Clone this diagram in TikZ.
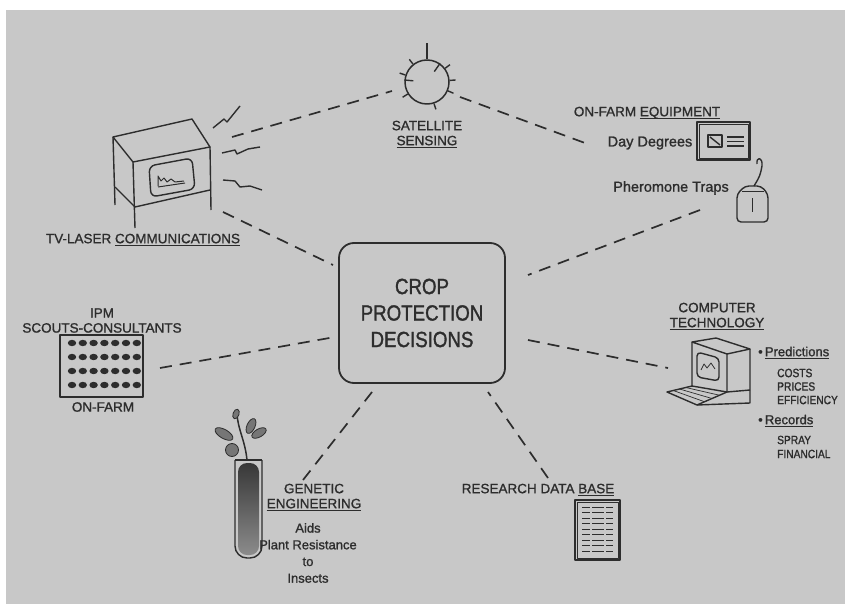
\documentclass[tikz,border=0pt]{standalone}
\usepackage{fontspec}
\setmainfont{Liberation Sans}[FakeBold=1.2]
\newfontfamily\cropfont{Liberation Sans}[FakeStretch=0.85, FakeBold=1.4]
\usetikzlibrary{calc}
\usepackage{xcolor}
\definecolor{paper}{RGB}{200,200,200}
\definecolor{ink}{RGB}{45,45,45}
\newcommand{\undl}[1]{\setbox0\hbox{#1}\rlap{\rule[-3pt]{\wd0}{1.3pt}}\box0}

\begin{document}
\begin{tikzpicture}[x=1pt,y=-1pt, line join=round,
	lab/.style={text=ink, inner sep=0pt, align=center, font=\fontsize{13.5}{15}\selectfont},
	small/.style={text=ink, inner sep=0pt, font=\cropfont\fontsize{12}{13.5}\selectfont},
	link/.style={ink, line width=1.7pt, dash pattern=on 12pt off 8pt},
	sketch/.style={ink, line width=1.4pt},
	leaf/.style={draw=ink, fill=ink!65, line width=0.8pt}]
	\useasboundingbox (0,0) rectangle (845,604);
	\fill[white] (0,0) rectangle (845,604);
	\fill[paper] (6,10) rectangle (845,604);

	% Centre
	\node[draw=ink, line width=1.8pt, rounded corners=15pt, minimum width=166pt, minimum height=140pt,
		text=ink, align=center, font=\cropfont\fontsize{22}{26.5}\selectfont] (crop) at (422,313)
		{CROP\\PROTECTION\\DECISIONS};

	% Satellite
	\node[circle, draw=ink, line width=1.5pt, minimum size=44pt, inner sep=0pt] (sat) at (427,82) {};
	\draw[sketch] (sat.90) -- ++(90:16pt);
	\foreach \a in {128,162,212,288,337,4,37}
		\draw[sketch] (sat.\a) -- ++(\a:6pt);
	\foreach \a/\len in {55/10,175/9}
		\draw[sketch] (sat.\a) -- ++(\a+180:\len pt);
	\node[lab] (satlab) at (427,134.5) {SATELLITE\\\undl{SENSING}};

	% TV set
	\draw[sketch] (113,137) -- (192,119) -- (210,147) -- (133,162) -- cycle;
	\draw[sketch] (133,162) -- (135,228);
	\draw[sketch] (210,147) -- (211,210);
	\draw[sketch] (113,137) -- (115,205);
	\draw[sketch] (115,187) -- (135,207) -- (210,190);
	\draw[sketch, rounded corners=6pt] (149,166) -- (192,158) -- (195,189) -- (151,197) -- cycle;
	\draw[ink, line width=1pt] (158,187) -- (185,183);
	\draw[ink, line width=1pt] (158,186) -- (158,176) -- (161,181) -- (164,178) -- (167,182) -- (171,179) -- (175,182) -- (184,181);
	% lightning
	\draw[sketch] (213,128) -- (224,119) -- (227,122) -- (240,106);
	\draw[sketch] (222,153) -- (235,150) -- (237,154) -- (248,149) -- (260,147);
	\draw[sketch] (223,180) -- (235,181) -- (240,187) -- (250,186) -- (262,190);
	\node[lab] (tvlab) at (143,240) {TV-LASER \undl{COMMUNICATIONS}};

	% Scouts
	\node[lab] (ipmlab) at (102,320.5) {IPM\\SCOUTS-CONSULTANTS};
	\node[draw=ink, line width=1.5pt, minimum width=83pt, minimum height=62pt, inner sep=0pt] (ipm) at (101.5,366) {};
	\foreach \c in {0,...,6}
		\foreach \r in {0,...,3}
			\fill[ink] (72+10.8*\c, 343+14*\r) ellipse (4.2pt and 3.2pt);
	\node[lab] (onfarm) at (103,407) {ON-FARM};

	% Equipment
	\node[lab] (eqlab) at (647,113) {ON-FARM \undl{EQUIPMENT}};
	\node[lab, font=\fontsize{14.5}{16}\selectfont] (daydeg) at (650,143) {Day Degrees};
	\node[draw=ink, line width=2pt, minimum width=53pt, minimum height=38pt, inner sep=0pt] (meter) at (723.5,141) {};
	\draw[ink, line width=0.8pt] ($(meter.north west)+(3,3)$) rectangle ($(meter.south east)+(-3,-3)$);
	\draw[sketch] (708,135) rectangle (722,147);
	\draw[sketch] (710,137) -- (720,145);
	\foreach \y in {137,141.5,146}
		\draw[ink, line width=1.2pt] (727,\y) -- (744,\y);
	\node[lab, font=\fontsize{14.5}{16}\selectfont] (pherlab) at (671,188) {Pheromone Traps};
	% trap
	\draw[sketch] (754,186) .. controls (760,176) .. (762,166) .. controls (763,157) and (756,156) .. (757,164);
	\draw[sketch, rounded corners=4pt] (745,186) -- (737,194) -- (737,222) -- (768,222) -- (768,194) -- (761,186) -- cycle;
	\draw[ink, line width=1pt] (742,191) -- (764,191);
	\draw[ink, line width=1pt] (752,198) -- (752,212);

	% Computer
	\node[lab] (complab) at (717,316.5) {COMPUTER\\\undl{TECHNOLOGY}};
	\draw[sketch] (692,342) -- (716,338) -- (750,349) -- (727,354) -- cycle;
	\draw[sketch] (692,342) -- (692,386) -- (727,392) -- (727,354);
	\draw[sketch] (750,349) -- (750,403) -- (697,405) -- (667,392) -- (692,386);
	\draw[sketch] (727,392) -- (750,390);
	\draw[sketch] (697,405) -- (727,392);
	\draw[sketch, rounded corners=4pt] (697,352) -- (719,358) -- (719,381) -- (697,377) -- cycle;
	\draw[ink, line width=0.8pt] (701,370) -- (704,364) -- (707,368) -- (711,363) -- (715,369);
	\foreach \k in {1,2,3}
		\draw[ink, line width=0.7pt] ($(667,392)!\k/4!(692,386)$) -- ($(697,405)!\k/4!(727,392)$);
	\node[lab, anchor=west, font=\fontsize{13}{14}\selectfont] (pred) at (758,353) {\textbullet\,\undl{Predictions}};
	\foreach \t/\y in {COSTS/373,PRICES/386.5,EFFICIENCY/400}
		\node[small, anchor=west] (\t) at (777,\y) {\t};
	\node[lab, anchor=west, font=\fontsize{13}{14}\selectfont] (rec) at (758,421) {\textbullet\,\undl{Records}};
	\foreach \t/\y in {SPRAY/440,FINANCIAL/454}
		\node[small, anchor=west] (\t) at (777,\y) {\t};

	% Genetic engineering
	\shade[top color=ink!95, bottom color=ink!55, rounded corners=9pt] (238,463) -- (238,555) -- (259,555) -- (259,463) -- cycle;
	\draw[sketch, rounded corners=12pt] (235,460) -- (235,558) -- (262,558) -- (262,460);
	\draw[ink, line width=1.2pt] (235,460) -- (262,460);
	\draw[ink, line width=1.5pt] (247,460) .. controls (245,440) and (238,430) .. (237,414);
	\draw[leaf, rotate around={-30:(224,434)}] (224,434) ellipse (10pt and 4.5pt);
	\draw[leaf, rotate around={65:(251,426)}] (251,426) ellipse (8pt and 4pt);
	\draw[leaf, rotate around={30:(259,433)}] (259,433) ellipse (8pt and 4pt);
	\draw[leaf] (232,450) circle (6.5pt);
	\draw[leaf, rotate around={70:(236,414)}] (236,414) ellipse (5pt and 3pt);
	\node[lab] (genlab) at (314,497.5) {GENETIC\\\undl{ENGINEERING}};
	\node[lab, font=\fontsize{13}{16.7}\selectfont] (aids) at (308,553) {Aids\\Plant Resistance\\to\\Insects};

	% Research data
	\node[lab] (reslab) at (538,490) {RESEARCH DATA \undl{BASE}};
	\node[draw=ink, line width=1.8pt, minimum width=45pt, minimum height=60pt, inner sep=0pt] (doc) at (597.5,530) {};
	\draw[ink, line width=0.8pt] ($(doc.north west)+(3,3)$) rectangle ($(doc.south east)+(-3,-3)$);
	\foreach \y in {507,512.5,...,554}
		\draw[ink, line width=1pt, dash pattern=on 8pt off 2pt on 12pt off 2pt] (582,\y) -- (613,\y);

	% Links
	\coordinate (tv-sat) at (232,137); \coordinate (sat-tv) at (392,91);
	\coordinate (sat-eq) at (460,97); \coordinate (eq-sat) at (585,143);
	\coordinate (tv-c) at (223,212); \coordinate (c-tv) at (333,265);
	\coordinate (trap-c) at (700,210); \coordinate (c-trap) at (528,275);
	\coordinate (ipm-c) at (160,368); \coordinate (c-ipm) at (335,337);
	\coordinate (comp-c) at (668,368); \coordinate (c-comp) at (528,340);
	\coordinate (gen-c) at (303,480); \coordinate (c-gen) at (372,392);
	\coordinate (res-c) at (548,478); \coordinate (c-res) at (488,392);
	\foreach \p/\q in {tv-sat/sat-tv, sat-eq/eq-sat, tv-c/c-tv, trap-c/c-trap, ipm-c/c-ipm, c-comp/comp-c, gen-c/c-gen, res-c/c-res}
		\draw[link] (\p) -- (\q);
\end{tikzpicture}
\end{document}
